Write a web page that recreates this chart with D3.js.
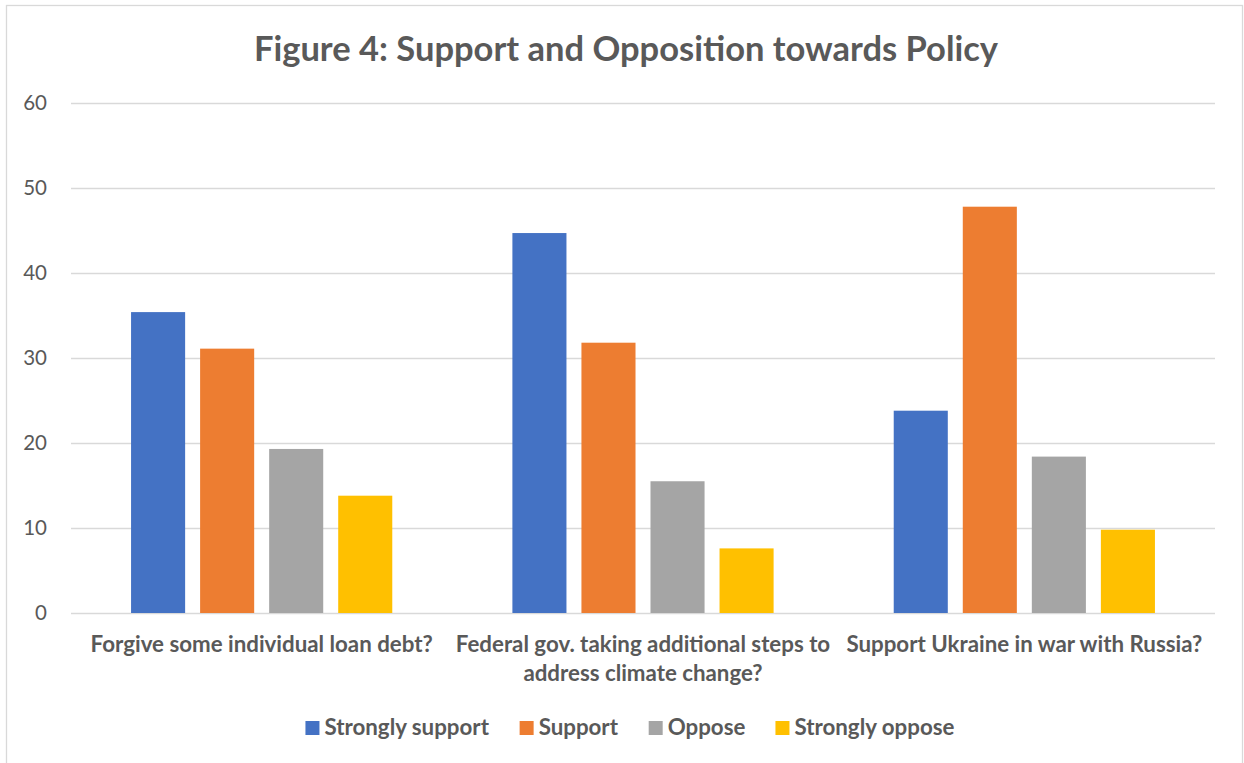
<!DOCTYPE html>
<html>
<head>
<meta charset="utf-8">
<script src="https://cdn.jsdelivr.net/npm/d3@7"></script>
<style>
  html, body { margin: 0; padding: 0; background: #fff; }
  svg { display: block; }
  text { font-family: Lato, "Open Sans", sans-serif; fill: #595959; }
</style>
</head>
<body>
<svg id="chart" width="1244" height="763"></svg>
<script>
// Survey questions (x categories) and answer series
const questions = [
  "Forgive some individual loan debt?",
  "Federal gov. taking additional steps to address climate change?",
  "Support Ukraine in war with Russia?"
];
const questionLines = [
  ["Forgive some individual loan debt?"],
  ["Federal gov. taking additional steps to", "address climate change?"],
  ["Support Ukraine in war with Russia?"]
];
const seriesNames = ["Strongly support", "Support", "Oppose", "Strongly oppose"];
const seriesColors = ["#4472C4", "#ED7D31", "#A5A5A5", "#FFC000"];

const stronglySupport = [35.4, 44.7, 23.8];
const support = [31.1, 31.8, 47.8];
const oppose = [19.3, 15.5, 18.4];
const stronglyOppose = [13.8, 7.6, 9.8];

const yTicks = [0, 10, 20, 30, 40, 50, 60];
const titleText = "Figure 4: Support and Opposition towards Policy";

const seriesValues = [stronglySupport, support, oppose, stronglyOppose];

const plot = { left: 71, right: 1215, top: 103, bottom: 613 };

const svg = d3.select("#chart");

// outer chart frame
svg.append("rect")
  .attr("x", 6.5).attr("y", 5.5)
  .attr("width", 1236).attr("height", 770)
  .attr("fill", "#fff").attr("stroke", "#D9D9D9").attr("stroke-width", 1.3);

// title
svg.append("text")
  .attr("x", 626).attr("y", 61)
  .attr("text-anchor", "middle")
  .attr("font-size", 34.5).attr("font-weight", "bold")
  .text(titleText);

const y = d3.scaleLinear().domain([0, 60]).range([plot.bottom, plot.top]);

const x0 = d3.scaleBand()
  .domain(questions)
  .range([plot.left, plot.right])
  .paddingInner(0.315)
  .paddingOuter(0.1575);

const x1 = d3.scaleBand()
  .domain(seriesNames)
  .range([0, x0.bandwidth()])
  .paddingInner(0.217);

// gridlines
svg.append("g")
  .selectAll("line")
  .data(yTicks)
  .join("line")
  .attr("x1", plot.left).attr("x2", plot.right)
  .attr("y1", d => Math.round(y(d)) + 0.5).attr("y2", d => Math.round(y(d)) + 0.5)
  .attr("stroke", "#D9D9D9").attr("stroke-width", 1.3);

// y axis labels
const yAxis = d3.axisLeft(y).tickValues(yTicks).tickSize(0).tickPadding(0);
const yG = svg.append("g").attr("transform", `translate(47,0)`).call(yAxis);
yG.select(".domain").remove();
yG.selectAll("text")
  .attr("font-size", 20.5)
  .attr("font-family", "Lato, 'Open Sans', sans-serif")
  .attr("fill", "#595959");

// bars
const groups = svg.append("g")
  .selectAll("g")
  .data(questions)
  .join("g")
  .attr("transform", d => `translate(${x0(d)},0)`);

groups.selectAll("rect")
  .data((q, qi) => seriesNames.map((s, si) => ({ s, si, v: seriesValues[si][qi] })))
  .join("rect")
  .attr("x", d => x1(d.s))
  .attr("width", x1.bandwidth())
  .attr("y", d => y(d.v))
  .attr("height", d => y(0) - y(d.v))
  .attr("fill", d => seriesColors[d.si]);

// category labels
const catG = svg.append("g");
questions.forEach((q, i) => {
  const cx = x0(q) + x0.bandwidth() / 2;
  const t = catG.append("text")
    .attr("text-anchor", "middle")
    .attr("font-size", 22.3).attr("font-weight", "bold");
  questionLines[i].forEach((line, li) => {
    t.append("tspan").attr("x", cx).attr("y", 652 + li * 29).text(line);
  });
});

// legend, centered under the plot
const legend = svg.append("g");
const items = legend.selectAll("g")
  .data(seriesNames)
  .join("g");
items.append("rect")
  .attr("width", 14).attr("height", 14)
  .attr("y", -13)
  .attr("fill", (d, i) => seriesColors[i]);
items.append("text")
  .attr("x", 19).attr("y", 0)
  .attr("font-size", 22.3).attr("font-weight", "bold")
  .attr("dy", "0.05em")
  .text(d => d);
const gap = 30;
let offset = 0;
items.each(function () {
  const w = this.getBBox().width;
  d3.select(this).attr("transform", `translate(${offset},0)`);
  offset += w + gap;
});
const legendW = offset - gap;
legend.attr("transform", `translate(${630 - legendW / 2},734)`);
</script>
</body>
</html>
